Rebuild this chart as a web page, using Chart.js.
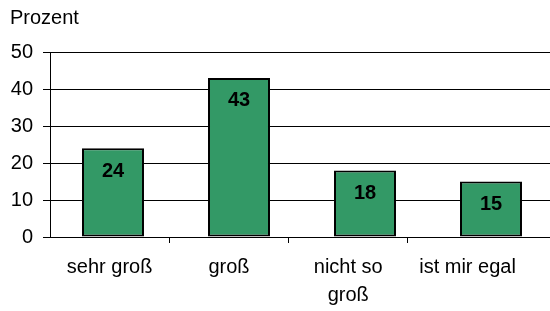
<!DOCTYPE html>
<html>
<head>
<meta charset="utf-8">
<script src="https://cdn.jsdelivr.net/npm/chart.js@4/dist/chart.umd.min.js"></script>
<style>
html,body{margin:0;padding:0;background:#fff;overflow:hidden;}
#c{display:block;}
</style>
</head>
<body>
<canvas id="c" width="554" height="311"></canvas>
<script>
const categories = ['sehr groß', 'groß', 'nicht so groß', 'ist mir egal'];
const categoryLines = [['sehr groß'], ['groß'], ['nicht so', 'groß'], ['ist mir egal']];
const values = [24, 43, 18, 15];
const yTicks = [0, 10, 20, 30, 40, 50];
const yTitle = 'Prozent';

const FONT = '"Liberation Sans", Arial, sans-serif';

const valueLabels = {
  id: 'valueLabels',
  afterDatasetsDraw(chart) {
    const ctx = chart.ctx;
    const meta = chart.getDatasetMeta(0);
    ctx.save();
    ctx.font = 'bold 20px ' + FONT;
    ctx.fillStyle = '#000';
    ctx.textAlign = 'center';
    ctx.textBaseline = 'middle';
    meta.data.forEach((bar, i) => {
      ctx.fillText(String(chart.data.datasets[0].data[i]), bar.x, bar.y + 23);
    });
    ctx.restore();
  }
};

const axisTitle = {
  id: 'axisTitle',
  afterDraw(chart) {
    const ctx = chart.ctx;
    ctx.save();
    ctx.font = '20px ' + FONT;
    ctx.fillStyle = '#000';
    ctx.textAlign = 'left';
    ctx.textBaseline = 'alphabetic';
    ctx.fillText(yTitle, 10, 24);
    ctx.restore();
  }
};

const labelStep = 119.3;

new Chart(document.getElementById('c'), {
  type: 'bar',
  data: {
    labels: categories,
    datasets: [{
      data: values,
      backgroundColor: '#339966',
      borderColor: '#000',
      borderWidth: 2,
      borderSkipped: false,
      categoryPercentage: 1,
      barPercentage: 0.492
    }]
  },
  options: {
    responsive: false,
    devicePixelRatio: 1,
    animation: false,
    layout: { padding: { top: 52, right: 0, left: 0, bottom: 0 } },
    plugins: { legend: { display: false }, tooltip: { enabled: false }, title: { display: false } },
    scales: {
      x: { type: 'category', display: false },
      xl: {
        type: 'linear',
        position: 'bottom',
        offset: false,
        min: 0,
        max: 504 / labelStep,
        afterFit(s) { s.height = 74; },
        ticks: {
          stepSize: 0.5,
          includeBounds: false,
          autoSkip: false,
          maxRotation: 0,
          color: '#000',
          font: { family: FONT, size: 20, lineHeight: 1.4 },
          padding: 10,
          callback(v) {
            const i = Math.round(v - 0.5);
            if (Math.abs(v - (i + 0.5)) < 1e-6 && i >= 0 && i < categoryLines.length) {
              const l = categoryLines[i];
              return l.length === 1 ? l[0] : l;
            }
            return '';
          }
        },
        grid: {
          offset: false,
          drawOnChartArea: false,
          drawTicks: true,
          tickLength: 6,
          lineWidth: 1,
          color(ctx) {
            const v = ctx.tick ? ctx.tick.value : 0;
            return (Math.abs(v - Math.round(v)) < 1e-6 && v > 0 && v < 4) ? '#000' : 'rgba(0,0,0,0)';
          }
        },
        border: { display: true, color: '#000', width: 1 }
      },
      y: {
        min: 0,
        max: 50,
        afterFit(s) { s.width = 50; },
        afterBuildTicks(s) { s.ticks = yTicks.map(v => ({ value: v })); },
        ticks: {
          color: '#000',
          font: { family: FONT, size: 20 },
          padding: 10
        },
        grid: {
          color: '#000',
          lineWidth: 1,
          drawTicks: true,
          tickLength: 7
        },
        border: { display: true, color: '#000', width: 1 }
      }
    }
  },
  plugins: [valueLabels, axisTitle]
});
</script>
</body>
</html>
